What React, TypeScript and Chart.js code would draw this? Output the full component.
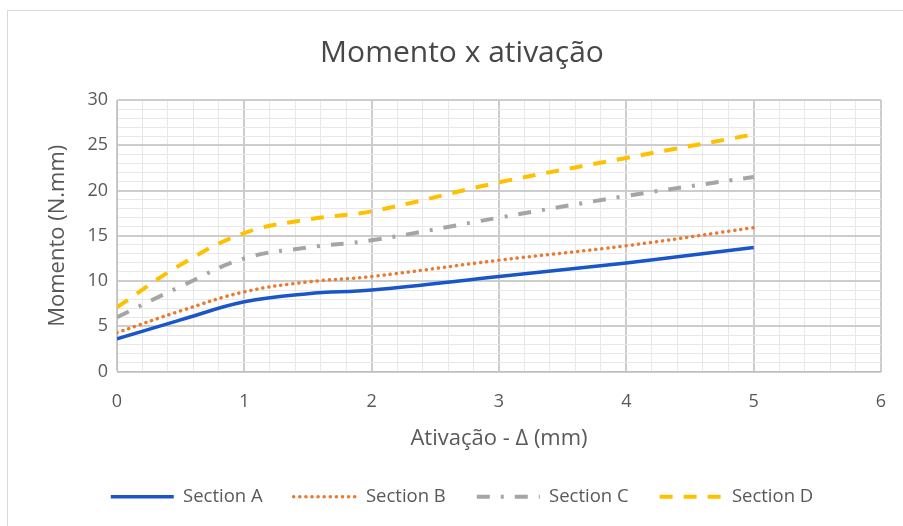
import React, { useEffect, useRef } from 'react';
import { Chart, registerables } from 'chart.js';

Chart.register(...registerables);

const chartTitle = 'Momento x ativação';
const xAxisTitle = 'Ativação - Δ (mm)';
const yAxisTitle = 'Momento (N.mm)';

const activation = [0, 0.5, 1, 1.5, 2, 3, 4, 5];
const sectionA = [3.6, 5.7, 7.7, 8.6, 9.0, 10.5, 12.0, 13.7];
const sectionB = [4.3, 6.7, 8.8, 9.9, 10.5, 12.3, 13.9, 15.9];
const sectionC = [6.0, 9.4, 12.5, 13.7, 14.5, 17.0, 19.4, 21.5];
const sectionD = [7.1, 11.8, 15.3, 16.8, 17.7, 20.9, 23.6, 26.2];
const seriesNames = ['Section A', 'Section B', 'Section C', 'Section D'];

const xTickLabels = ['0', '1', '2', '3', '4', '5', '6'];
const yTickLabels = ['0', '5', '10', '15', '20', '25', '30'];

const FONT = "'Open Sans', 'Noto Sans', sans-serif";
const TEXT = '#595959';

const near = (v: number, step: number) => Math.abs(v / step - Math.round(v / step)) < 1e-6;

export default function App() {
  const ref = useRef<HTMLCanvasElement | null>(null);

  useEffect(() => {
    if (!ref.current) return;
    const toPts = (ys: number[]) => activation.map((x, i) => ({ x, y: ys[i] }));
    const styles = [
      { color: '#1A56C9', dash: [] as number[], cap: 'butt', width: 3.5 },
      { color: '#EA7A30', dash: [0.1, 6], cap: 'round', width: 3.5 },
      { color: '#A5A5A5', dash: [13, 11, 3, 11], cap: 'butt', width: 4 },
      { color: '#FFC000', dash: [13, 11], cap: 'butt', width: 4 },
    ];
    const all = [sectionA, sectionB, sectionC, sectionD];
    const chart = new Chart(ref.current, {
      type: 'line',
      data: {
        datasets: all.map((ys, i) => ({
          label: seriesNames[i],
          data: toPts(ys),
          borderColor: styles[i].color,
          backgroundColor: styles[i].color,
          borderWidth: styles[i].width,
          borderDash: styles[i].dash,
          borderCapStyle: styles[i].cap,
          pointRadius: 0,
          tension: 0.4,
          fill: false,
        })),
      },
      options: {
        responsive: false,
        animation: false,
        layout: { padding: { left: 35, right: 33, top: 10, bottom: 15 } },
        plugins: {
          title: {
            display: true,
            text: chartTitle,
            color: '#474747',
            font: { family: FONT, size: 30, weight: 'normal' },
            padding: { top: 14, bottom: 29.0 },
          },
          legend: {
            position: 'bottom',
            labels: {
              usePointStyle: true,
              pointStyle: 'line',
              pointStyleWidth: 63,
              color: TEXT,
              font: { family: FONT, size: 18.5 },
              padding: 31,
              generateLabels: (ch: any) => {
                const items = Chart.defaults.plugins.legend.labels.generateLabels(ch);
                return items.map((it: any, i: number) => ({
                  ...it,
                  lineDash: styles[i].dash,
                  lineWidth: styles[i].width,
                  strokeStyle: styles[i].color,
                  fillStyle: styles[i].color,
                  pointStyle: 'line',
                  lineCap: styles[i].cap,
                }));
              },
            },
          },
          tooltip: { enabled: false },
        },
        scales: {
          x: {
            type: 'linear',
            min: 0,
            max: 6,
            afterFit: (s: any) => { s.height = 85; },
            ticks: {
              stepSize: 0.2,
              autoSkip: false,
              maxRotation: 0,
              padding: 19.2,
              color: TEXT,
              font: { family: FONT, size: 18 },
              callback: (v: any) => (near(Number(v), 1) ? xTickLabels[Math.round(Number(v))] : ''),
            },
            grid: {
              drawTicks: false,
              color: (c: any) => (c.tick && near(c.tick.value, 1) ? '#cdcdcd' : '#e8e8e8'),
              lineWidth: (c: any) => (c.tick && near(c.tick.value, 1) ? 2 : 1),
            },
            border: { display: true, color: '#bfbfbf', width: 1 },
            title: {
              display: true,
              text: xAxisTitle,
              color: TEXT,
              font: { family: FONT, size: 22 },
              padding: { top: 0, bottom: 5.0 },
            },
          },
          y: {
            min: 0,
            max: 30,
            afterFit: (s: any) => { s.width = 74; },
            ticks: {
              stepSize: 1,
              autoSkip: false,
              padding: 9,
              color: TEXT,
              font: { family: FONT, size: 18 },
              callback: (v: any) => (near(Number(v), 5) ? yTickLabels[Math.round(Number(v) / 5)] : ''),
            },
            grid: {
              drawTicks: false,
              color: (c: any) => (c.tick && near(c.tick.value, 5) ? '#cdcdcd' : '#e8e8e8'),
              lineWidth: (c: any) => (c.tick && near(c.tick.value, 5) ? 2 : 1),
            },
            border: { display: true, color: '#bfbfbf', width: 1 },
            title: {
              display: true,
              text: yAxisTitle,
              color: TEXT,
              font: { family: FONT, size: 22 },
              padding: { top: 1.8, bottom: 0 },
            },
          },
        },
      },
    } as any);
    return () => chart.destroy();
  }, []);

  return (
    <div style={{ position: 'fixed', left: 0, top: 0, width: 903, height: 526, overflow: 'hidden', background: '#fff' }}>
      <div style={{ position: 'absolute', left: 7, top: 10, width: 906, height: 540, border: '1px solid #d9d9d9', background: '#fff' }}>
        <canvas ref={ref} width={906} height={520} style={{ display: 'block' }} />
      </div>
    </div>
  );
}
